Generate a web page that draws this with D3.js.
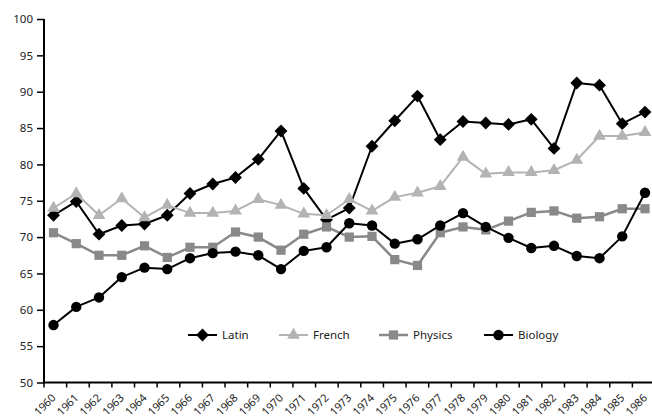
<!DOCTYPE html>
<html><head><meta charset="utf-8">
<script src="https://cdn.jsdelivr.net/npm/d3@7"></script>
<style>body{margin:0;background:#fff}svg{display:block}text{font-family:"Noto Sans",sans-serif;fill:#222}</style>
</head><body>
<svg id="c" width="652" height="418"></svg>
<script>
const years = d3.range(1960, 1987).map(String);
const latin   = [73.0,74.9,70.4,71.6,71.8,73.0,76.0,77.3,78.2,80.7,84.6,76.7,72.4,74.0,82.5,86.0,89.4,83.4,85.9,85.7,85.5,86.2,82.2,91.2,90.9,85.6,87.2];
const french  = [74.0,76.0,73.0,75.3,72.7,74.4,73.3,73.3,73.6,75.2,74.4,73.2,73.0,75.2,73.6,75.5,76.1,77.0,81.0,78.7,78.9,78.9,79.2,80.6,83.9,83.9,84.4];
const physics = [70.6,69.1,67.5,67.5,68.8,67.2,68.6,68.6,70.7,70.0,68.2,70.4,71.4,70.0,70.1,66.9,66.1,70.6,71.4,71.0,72.2,73.4,73.6,72.6,72.8,73.9,73.9];
const biology = [57.9,60.4,61.7,64.5,65.8,65.6,67.1,67.8,68.0,67.5,65.6,68.1,68.6,71.9,71.6,69.1,69.7,71.6,73.3,71.4,69.9,68.5,68.8,67.4,67.1,70.1,76.1];
const yTicks = d3.range(50, 101, 5);
const seriesNames = ["Latin","French","Physics","Biology"];

const series = [
  {name:seriesNames[0], values:latin,   color:"#000", sym:d3.symbolDiamond2, size:105, width:2},
  {name:seriesNames[1], values:french,  color:"#b3b3b3", sym:d3.symbolTriangle, size:70, width:2},
  {name:seriesNames[2], values:physics, color:"#898989", sym:d3.symbolSquare, size:85, width:2.5},
  {name:seriesNames[3], values:biology, color:"#000", sym:d3.symbolCircle, size:85, width:2}
];

const svg = d3.select("#c");
const y = d3.scaleLinear().domain([50,100]).range([382.5,19]);
const xb = d3.scaleBand().domain(years).range([44,655]);
const x = d3.scalePoint().domain(years).range([53.5,645]);

// y axis
const ya = svg.append("g").attr("transform","translate(44,0)")
  .call(d3.axisLeft(y).tickValues(yTicks).tickSize(7).tickPadding(4).tickFormat(d3.format("d")));
ya.select(".domain").attr("stroke","#000").attr("stroke-width",2).attr("d","M0,"+y(100)+"V"+(y(50)+1));
ya.selectAll(".tick line").attr("stroke","#000").attr("stroke-width",1.5);
ya.selectAll("text").style("font-size","11.5px").attr("fill","#222");

// x axis
const xa = svg.append("g").attr("transform","translate(0,382.5)");
xa.append("line").attr("x1",43).attr("x2",652).attr("y1",0).attr("y2",0).attr("stroke","#000").attr("stroke-width",2);
xa.selectAll("line.t").data(years).join("line").attr("class","t")
  .attr("x1",d=>xb(d)).attr("x2",d=>xb(d)).attr("y1",0).attr("y2",5)
  .attr("stroke","#000").attr("stroke-width",1.5);
xa.selectAll("text").data(years).join("text")
  .attr("transform",d=>`translate(${x(d)+3},16) rotate(-45)`)
  .attr("text-anchor","end").style("font-size","11px").text(d=>d);

// lines
const line = d3.line().x((d,i)=>x(years[i])).y(d=>y(d));
series.forEach(s=>{
  svg.append("path").datum(s.values).attr("d",line)
    .attr("fill","none").attr("stroke",s.color).attr("stroke-width",s.width).attr("stroke-linejoin","round");
  svg.append("g").selectAll("path").data(s.values).join("path")
    .attr("transform",(d,i)=>`translate(${x(years[i])},${y(d)})`)
    .attr("d",d3.symbol().type(s.sym).size(s.size)).attr("fill",s.color);
});

// legend
const lx = [188,279,379,484];
const leg = svg.append("g").attr("transform","translate(0,335)");
series.forEach((s,i)=>{
  const g = leg.append("g").attr("transform",`translate(${lx[i]},0)`);
  g.append("line").attr("x1",0).attr("x2",29).attr("stroke",s.color).attr("stroke-width",s.width);
  g.append("path").attr("transform","translate(14.5,0)").attr("d",d3.symbol().type(s.sym).size(s.size)).attr("fill",s.color);
  g.append("text").attr("x",34).attr("dy","0.35em").style("font-size","11.5px").text(s.name);
});
</script>
</body></html>
